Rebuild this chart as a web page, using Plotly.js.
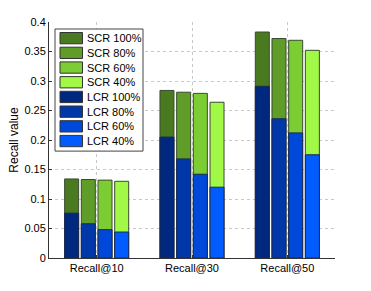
<!DOCTYPE html>
<html><head><meta charset="utf-8">
<script src="https://cdn.plot.ly/plotly-3.0.1.min.js"></script>
<style>html,body{margin:0;padding:0;background:#fff}#chart{width:371px;height:291px}</style>
</head><body><div id="chart"></div>
<script>
const categories = ['Recall@10', 'Recall@30', 'Recall@50'];
const levels = ['100%', '80%', '60%', '40%'];
const scr100 = [0.134, 0.284, 0.383];
const scr80  = [0.133, 0.281, 0.372];
const scr60  = [0.132, 0.279, 0.369];
const scr40  = [0.130, 0.264, 0.352];
const lcr100 = [0.076, 0.205, 0.291];
const lcr80  = [0.058, 0.168, 0.236];
const lcr60  = [0.048, 0.142, 0.212];
const lcr40  = [0.044, 0.120, 0.175];
const yTicks = [0, 0.05, 0.1, 0.15, 0.2, 0.25, 0.3, 0.35, 0.4];
const yTickText = ['0', '0.05', '0.1', '0.15', '0.2', '0.25', '0.3', '0.35', '0.4'];

const scrSeries = [scr100, scr80, scr60, scr40];
const lcrSeries = [lcr100, lcr80, lcr60, lcr40];
const scrColors = ['#4a7a20', '#5f9c28', '#7ccc34', '#a2f846'];
const lcrColors = ['#00287e', '#0038aa', '#0048da', '#005cff'];

const traces = [];
const legendItems = [];
scrSeries.forEach((vals, i) => {
  const name = 'SCR ' + levels[i];
  traces.push({type: 'bar', x: categories, y: vals, name: name, showlegend: false,
    offsetgroup: 'g' + i, marker: {color: scrColors[i], line: {color: '#3a4a30', width: 1}}});
  legendItems.push({name: name, color: scrColors[i]});
});
lcrSeries.forEach((vals, i) => {
  const name = 'LCR ' + levels[i];
  traces.push({type: 'bar', x: categories, y: vals, name: name, showlegend: false,
    offsetgroup: 'g' + i, marker: {color: lcrColors[i], line: {color: '#1a2a50', width: 1}}});
  legendItems.push({name: name, color: lcrColors[i]});
});

// custom legend (MATLAB-style large swatches), laid out in pixels and converted to paper coords
const W = 371, H = 291, M = {l: 49, r: 36, t: 22, b: 33};
const pw = W - M.l - M.r, ph = H - M.t - M.b;
const px = x => (x - M.l) / pw;
const py = y => 1 - (y - M.t) / ph;
const legLeft = 55, legTop = 29, legRight = 143, rowH = 14.7, swTop0 = 32.5, swH = 11.3;
const legBottom = swTop0 + rowH * legendItems.length + 1;
const shapes = [{type: 'rect', xref: 'paper', yref: 'paper', layer: 'above',
  x0: px(legLeft), x1: px(legRight), y0: py(legBottom), y1: py(legTop),
  fillcolor: '#fff', line: {color: '#444', width: 1}}];
const annotations = [];
legendItems.forEach((it, k) => {
  const top = swTop0 + rowH * k;
  shapes.push({type: 'rect', xref: 'paper', yref: 'paper', layer: 'above',
    x0: px(60), x1: px(82.5), y0: py(top + swH), y1: py(top),
    fillcolor: it.color, line: {color: '#333', width: 1}});
  annotations.push({xref: 'paper', yref: 'paper', x: px(84.5), y: py(top + swH / 2),
    xanchor: 'left', yanchor: 'middle', showarrow: false, text: it.name,
    font: {size: 11, color: '#000'}});
});

const layout = {
  width: W, height: H,
  margin: M,
  paper_bgcolor: '#fff', plot_bgcolor: '#fff',
  font: {family: 'Liberation Sans, Arial, sans-serif', size: 11, color: '#000'},
  barmode: 'group', bargap: 0.3, bargroupgap: 0.16,
  showlegend: false,
  shapes: shapes, annotations: annotations,
  xaxis: {range: [-0.5, 2.5], showgrid: true, gridcolor: '#c8c8c8', griddash: 'dot', gridwidth: 1,
    showline: true, linecolor: '#333', linewidth: 1, ticks: 'inside', ticklen: 3, tickcolor: '#333',
    tickfont: {size: 11}, zeroline: false, fixedrange: true},
  yaxis: {range: [0, 0.4], tickvals: yTicks, ticktext: yTickText, showgrid: true, gridcolor: '#c8c8c8',
    griddash: 'dot', gridwidth: 1, showline: true, linecolor: '#333', linewidth: 1,
    ticks: 'inside', ticklen: 3, tickcolor: '#333', tickfont: {size: 11}, zeroline: false,
    title: {text: 'Recall value', font: {size: 12}, standoff: 3}}
};
Plotly.newPlot('chart', traces, layout, {displayModeBar: false, staticPlot: true});
</script></body></html>
